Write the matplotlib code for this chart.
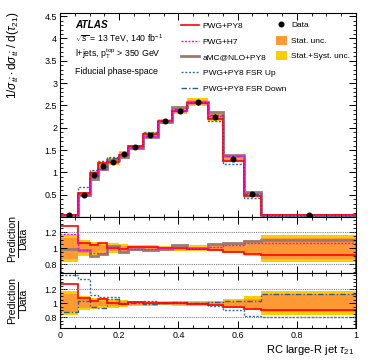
import numpy as np
import matplotlib
matplotlib.use("Agg")
import matplotlib.pyplot as plt
from matplotlib.ticker import MultipleLocator, FixedLocator
from matplotlib.lines import Line2D
from matplotlib.patches import Patch

plt.rcParams['font.family'] = ['Liberation Sans', 'DejaVu Sans']
plt.rcParams['mathtext.fontset'] = 'custom'
plt.rcParams['mathtext.rm'] = 'Liberation Sans'
plt.rcParams['mathtext.it'] = 'Liberation Sans:italic'
plt.rcParams['mathtext.bf'] = 'Liberation Sans:bold'

# ---- data ----
edges = [0, 0.06, 0.10, 0.13, 0.16, 0.20, 0.23, 0.28, 0.33, 0.38, 0.43, 0.50, 0.55, 0.62, 0.68, 1.0]
data = [0.04, 0.50, 0.95, 1.15, 1.24, 1.41, 1.56, 1.84, 2.14, 2.38, 2.57, 2.25, 1.31, 0.51, 0.04]
stat_rel = [0.13, 0.06, 0.05, 0.04, 0.035, 0.03, 0.025, 0.02, 0.02, 0.02, 0.02, 0.025, 0.04, 0.06, 0.13]
tot_rel = [0.17, 0.10, 0.08, 0.07, 0.06, 0.05, 0.04, 0.035, 0.03, 0.035, 0.035, 0.04, 0.06, 0.10, 0.17]
r_pwgpy8 = [1.28, 1.07, 1.04, 1.06, 1.00, 0.99, 1.02, 1.01, 1.00, 1.00, 0.99, 0.98, 0.95, 0.925, 0.91]
r_pwgh7 = [1.18, 0.98, 0.94, 0.94, 1.02, 0.99, 0.99, 0.99, 1.00, 1.01, 1.00, 1.01, 1.04, 1.07, 1.06]
r_amc = [0.99, 0.98, 0.90, 0.93, 1.03, 0.95, 0.99, 0.98, 0.99, 1.04, 1.00, 1.05, 1.06, 1.09, 1.10]
r_fsrup = [1.40, 1.35, 1.12, 1.09, 1.09, 1.00, 1.02, 1.03, 1.00, 1.01, 1.00, 0.96, 0.90, 0.82, 0.80]
r_fsrdn = [0.87, 1.03, 0.95, 0.93, 1.06, 0.99, 1.00, 0.99, 1.00, 1.02, 1.00, 1.02, 1.04, 1.03, 1.13]
xticks = [0, 0.2, 0.4, 0.6, 0.8, 1.0]
xticklabels = ['0', '0.2', '0.4', '0.6', '0.8', '1']

edges_a = np.array(edges)
data_a = np.array(data)
centers = 0.5 * (edges_a[:-1] + edges_a[1:])
stat_a = np.array(stat_rel)
tot_a = np.array(tot_rel)

YEL = '#ffcc00'
ORA = '#ff9933'
RED = '#ff0000'
MAG = '#ff00ff'
BRN = '#9c7b6e'
FUP = '#3a6ea5'
FDN = '#2d5d8c'

styles = {
    'PWG+PY8': dict(color=RED, lw=1.2, ls='-'),
    'PWG+H7': dict(color=MAG, lw=1.0, ls=(0, (1.5, 1.0))),
    'aMC@NLO+PY8': dict(color=BRN, lw=2.0, ls='-'),
    'PWG+PY8 FSR Up': dict(color=FUP, lw=1.0, ls=(0, (1.5, 1.2))),
    'PWG+PY8 FSR Down': dict(color=FDN, lw=1.0, ls=(0, (4, 1.5, 1, 1.5))),
}
ratios = {
    'PWG+PY8': r_pwgpy8, 'PWG+H7': r_pwgh7, 'aMC@NLO+PY8': r_amc,
    'PWG+PY8 FSR Up': r_fsrup, 'PWG+PY8 FSR Down': r_fsrdn,
}

W, H = 374, 363
fig = plt.figure(figsize=(W / 100, H / 100), dpi=100)

def px_axes(l, t, r, b):
    return fig.add_axes([l / W, 1 - b / H, (r - l) / W, (b - t) / H])

ax0 = px_axes(60, 13, 356, 217)
ax1 = px_axes(60, 217, 356, 273)
ax2 = px_axes(60, 273, 356, 328)

TFS = 6.4

def style_axis(ax):
    ax.tick_params(which='both', direction='in', top=True, right=True, labelsize=TFS, pad=2)
    ax.tick_params(which='major', length=5, width=0.7)
    ax.tick_params(which='minor', length=2.5, width=0.6)
    for s in ax.spines.values():
        s.set_linewidth(0.8)
    ax.set_xlim(0, 1)
    ax.xaxis.set_major_locator(FixedLocator(xticks))
    ax.xaxis.set_minor_locator(MultipleLocator(0.05))

# ---- main panel ----
ax0.stairs(data_a * (1 + tot_a), edges_a, baseline=data_a * (1 - tot_a), fill=True, color=YEL, lw=0)
ax0.stairs(data_a * (1 + stat_a), edges_a, baseline=data_a * (1 - stat_a), fill=True, color=ORA, lw=0)
draw_order = ['aMC@NLO+PY8', 'PWG+PY8 FSR Up', 'PWG+PY8 FSR Down', 'PWG+PY8', 'PWG+H7']
for name in draw_order:
    ax0.stairs(data_a * np.array(ratios[name]), edges_a, **styles[name])
ax0.errorbar(centers, data_a, yerr=data_a * stat_a, fmt='o', color='k', ms=3.3, lw=0.8, capsize=0, zorder=10)
style_axis(ax0)
ax0.set_ylim(0, 4.57)
ax0.yaxis.set_major_locator(FixedLocator([0.5, 1, 1.5, 2, 2.5, 3, 3.5, 4, 4.5]))
ax0.yaxis.set_minor_locator(MultipleLocator(0.1))
ax0.set_yticklabels(['0.5', '1', '1.5', '2', '2.5', '3', '3.5', '4', '4.5'])
ax0.tick_params(labelbottom=False)
fig.text(13 / W, 1 - 11 / H, r'$1/\sigma_{t\bar{t}}\cdot\mathrm{d}\sigma_{t\bar{t}}$ / d($\tau_{21}$)',
         rotation=90, ha='center', va='top', fontsize=8.6)

# ---- ratio panels ----
def ratio_panel(ax, names, ylim):
    ones = np.ones_like(data_a)
    ax.stairs(ones + tot_a, edges_a, baseline=ones - tot_a, fill=True, color=YEL, lw=0)
    ax.stairs(ones + stat_a, edges_a, baseline=ones - stat_a, fill=True, color=ORA, lw=0)
    for yv in (0.8, 1.2):
        ax.axhline(yv, color='#808080', lw=0.8, ls=(0, (1, 1)))
    for name in names:
        ax.stairs(np.array(ratios[name]), edges_a, **styles[name])
    style_axis(ax)
    ax.set_ylim(*ylim)
    ax.yaxis.set_major_locator(FixedLocator([0.8, 1.0, 1.2]))
    ax.set_yticklabels(['0.8', '1', '1.2'])
    ax.yaxis.set_minor_locator(MultipleLocator(0.05))

ratio_panel(ax1, ['aMC@NLO+PY8', 'PWG+PY8', 'PWG+H7'], (0.69, 1.39))
ax1.tick_params(labelbottom=False)
ratio_panel(ax2, ['PWG+PY8 FSR Up', 'PWG+PY8 FSR Down', 'PWG+PY8'], (0.65, 1.43))
ax2.set_xticklabels(xticklabels)

# fraction labels "Prediction / Data"
for yc in (239, 300):
    xc = 16.5
    fig.text((xc - 4) / W, 1 - yc / H, 'Prediction', rotation=90, ha='center', va='center', fontsize=7.6)
    fig.text((xc + 6.5) / W, 1 - yc / H, 'Data', rotation=90, ha='center', va='center', fontsize=7.6)
    fig.add_artist(Line2D([(xc + 1.2) / W, (xc + 1.2) / W], [1 - (yc - 18) / H, 1 - (yc + 18) / H],
                          color='k', lw=0.7, transform=fig.transFigure))

fig.text(354 / W, 1 - 350 / H, r'RC large-R jet $\tau_{21}$', ha='right', va='center', fontsize=8)

# ---- annotations ----
fig.text(75 / W, 1 - 25 / H, 'ATLAS', fontsize=7.2, fontweight='bold', fontstyle='italic', va='center')
fig.text(75 / W, 1 - 39 / H, r'$\sqrt{s}$ = 13 TeV, 140 fb$^{-1}$', fontsize=6.3, va='center')
fig.text(75 / W, 1 - 54 / H, r'l+jets, p$_{\mathrm{T}}^{\mathrm{top}}$ > 350 GeV', fontsize=6.3, va='center')
fig.text(75 / W, 1 - 71 / H, 'Fiducial phase-space', fontsize=6.3, va='center')

# ---- legends ----
names_l = ['PWG+PY8', 'PWG+H7', 'aMC@NLO+PY8', 'PWG+PY8 FSR Up', 'PWG+PY8 FSR Down']
h_left = [Line2D([], [], **styles[n]) for n in names_l]
leg1 = ax0.legend(h_left, names_l, loc='upper left', bbox_to_anchor=((181 - 60) / 296, 1 - (22 - 13) / 204),
                  frameon=False, fontsize=6.0, handlelength=2.1, handletextpad=0.5, labelspacing=0.95,
                  borderaxespad=0, borderpad=0)
ax0.add_artist(leg1)
h_right = [Line2D([], [], marker='o', color='k', ls='none', ms=3.3),
           Patch(facecolor=ORA, edgecolor='none'), Patch(facecolor=YEL, edgecolor='none')]
ax0.legend(h_right, ['Data', 'Stat. unc.', 'Stat.+Syst. unc.'], loc='upper left',
           bbox_to_anchor=((276 - 60) / 296, 1 - (20 - 13) / 204), frameon=False, fontsize=6.0,
           handlelength=1.3, handleheight=1.3, handletextpad=0.5, labelspacing=0.75, borderaxespad=0, borderpad=0)

fig.savefig('out.png', dpi=100)
